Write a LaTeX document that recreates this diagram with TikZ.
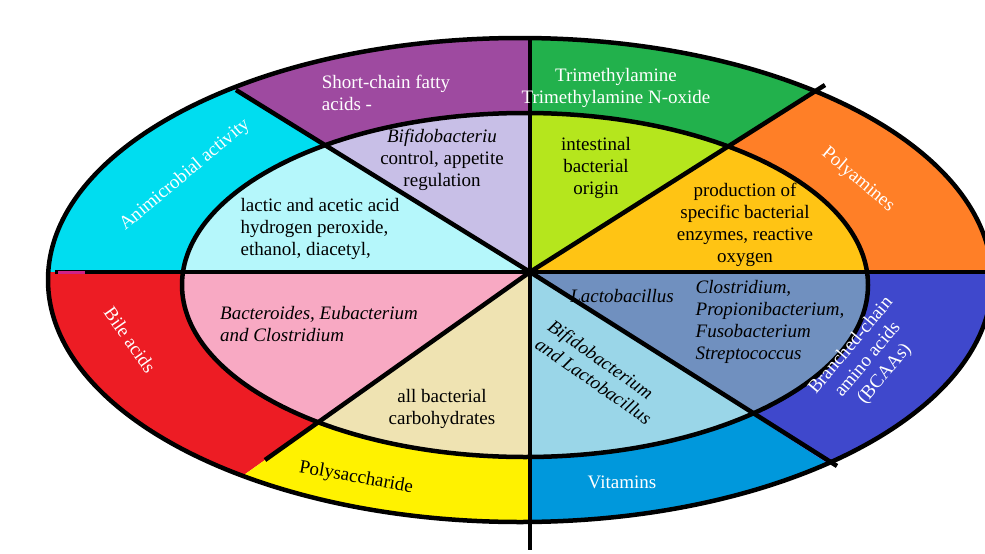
\documentclass[tikz,border=0pt]{standalone}
\usepackage{fontspec}
\setmainfont{Liberation Serif}
\newfontfamily\tms{Liberation Serif}
\begin{document}
\begin{tikzpicture}[x=1pt,y=-1pt,
  lbl/.style={font=\tms\fontsize{19}{22}\selectfont,align=center,inner sep=0pt},
  wl/.style={lbl,text=white},
  bl/.style={lbl,text=black},
  sep/.style={line width=4.5pt,black}]
\definecolor{cPur}{HTML}{9E4AA0}\definecolor{cLav}{HTML}{C8BFE7}
\definecolor{cCya}{HTML}{00DDF0}\definecolor{cLcy}{HTML}{B5F7FB}
\definecolor{cRed}{HTML}{ED1C24}\definecolor{cPnk}{HTML}{F8A9C3}
\definecolor{cYel}{HTML}{FFF200}\definecolor{cBei}{HTML}{EFE3B2}
\definecolor{cBlu}{HTML}{0098DC}\definecolor{cLbl}{HTML}{9AD6E8}
\definecolor{cInd}{HTML}{3F48CC}\definecolor{cStl}{HTML}{7090BF}
\definecolor{cOra}{HTML}{FF7F27}\definecolor{cGol}{HTML}{FFC414}
\definecolor{cGrn}{HTML}{22B14C}\definecolor{cYg}{HTML}{B5E61D}
\useasboundingbox (0,0) rectangle (985,554);
\coordinate (C) at (530,272);
\coordinate (N) at (530,-200);\coordinate (NW) at (-60,-92);
\coordinate (W) at (-300,272);\coordinate (SW) at (-0,648);
\coordinate (S) at (530,800);\coordinate (SE) at (1140,664);
\coordinate (E) at (1400,272);\coordinate (NE) at (1120,-102);
\begin{scope}
\clip (520,280) ellipse [x radius=472pt,y radius=242pt];
\fill[cPur] (C)--(N)--(-300,-200)--(NW)--cycle;
\fill[cCya] (C)--(NW)--(-300,-200)--(W)--cycle;
\fill[cRed] (C)--(W)--(-300,800)--(SW)--cycle;
\fill[cYel] (C)--(SW)--(-300,800)--(S)--cycle;
\fill[cBlu] (C)--(S)--(1400,800)--(SE)--cycle;
\fill[cInd] (C)--(SE)--(1400,800)--(E)--cycle;
\fill[cOra] (C)--(E)--(1400,-200)--(NE)--cycle;
\fill[cGrn] (C)--(NE)--(1400,-200)--(N)--cycle;
\end{scope}
\begin{scope}
\clip (525,285) ellipse [x radius=343pt,y radius=172pt];
\fill[cLav] (C)--(N)--(-300,-200)--(NW)--cycle;
\fill[cLcy] (C)--(NW)--(-300,-200)--(W)--cycle;
\fill[cPnk] (C)--(W)--(-300,800)--(SW)--cycle;
\fill[cBei] (C)--(SW)--(-300,800)--(S)--cycle;
\fill[cLbl] (C)--(S)--(1400,800)--(SE)--cycle;
\fill[cStl] (C)--(SE)--(1400,800)--(E)--cycle;
\fill[cGol] (C)--(E)--(1400,-200)--(NE)--cycle;
\fill[cYg] (C)--(NE)--(1400,-200)--(N)--cycle;
\end{scope}
\draw[sep] (520,280) ellipse [x radius=472pt,y radius=242pt];
\draw[sep] (525,285) ellipse [x radius=343pt,y radius=172pt];
\coordinate (eN) at (530,38);\coordinate (eS) at (530,550);
\coordinate (eW) at (55,272);\coordinate (eE) at (985,272);
\coordinate (eNW) at (236,90);\coordinate (eNE) at (825,85);
\coordinate (eSE) at (837,466);\coordinate (eSW) at (265,460);
\draw[sep] (eN)--(eS);
\draw[sep] (eW)--(eE);
\draw[sep] (eNW)--(C)--(eSE);
\draw[sep] (eNE)--(C)--(eSW);
\draw[line width=3pt,magenta!70!violet] (58,272)--(85,272);
% outer texts
\node[wl,align=left] (t1) at (386,93) {Short-chain fatty\\acids -};
\node[wl] (t2) at (616,88) {Trimethylamine\\Trimethylamine N-oxide};
\node[wl,rotate=-40] (t3) at (858,180) {Polyamines};
\node[wl,rotate=50] (t4) at (868,360) {Branched-chain\\amino acids\\(BCAAs)};
\node[wl] (t5) at (622,482) {Vitamins};
\node[bl,rotate=-10] (t6) at (356,478) {Polysaccharide};
\node[wl,rotate=-55] (t7) at (130,340) {Bile acids};
\node[wl,rotate=40] (t8) at (185,175) {Animicrobial activity};
% inner texts
\node[bl] (i1) at (442,160) {\itshape Bifidobacteriu\\control, appetite\\regulation};
\node[bl] (i2) at (596,168) {intestinal\\bacterial\\origin};
\node[bl] (i3) at (745,225) {production of\\specific bacterial\\enzymes, reactive\\oxygen};
\node[bl,align=left] (i4) at (770,322) {\itshape Clostridium,\\\itshape Propionibacterium,\\\itshape Fusobacterium\\\itshape Streptococcus};
\node[bl] (i5) at (622,296) {\itshape Lactobacillus};
\node[bl,rotate=-35,align=left] (i6) at (600,372) {\itshape Bifidobacterium\\\itshape and Lactobacillus};
\node[bl] (i7) at (442,409) {all bacterial\\carbohydrates};
\node[bl,align=left] (i8) at (319,324) {\itshape Bacteroides, Eubacterium\\\itshape and Clostridium};
\node[bl,align=left] (i9) at (320,229) {lactic and acetic acid\\hydrogen peroxide,\\ethanol, diacetyl,};
\end{tikzpicture}
\end{document}
